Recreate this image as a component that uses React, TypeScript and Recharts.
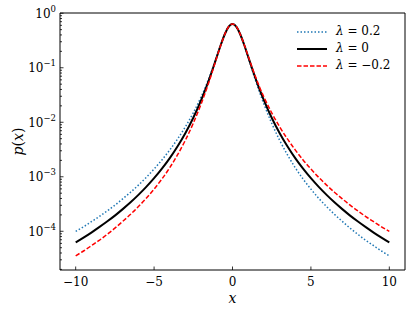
import React from 'react';
import { LineChart, Line, XAxis, YAxis, ReferenceArea } from 'recharts';

const xValues = [
  -10, -9.5, -9, -8.5, -8, -7.5, -7, -6.5, -6, -5.5, -5, -4.5, -4, -3.5, -3, -2.5, -2,
  -1.75, -1.5, -1.25, -1, -0.75, -0.5, -0.25, 0, 0.25, 0.5, 0.75, 1, 1.25, 1.5, 1.75,
  2, 2.5, 3, 3.5, 4, 4.5, 5, 5.5, 6, 6.5, 7, 7.5, 8, 8.5, 9, 9.5, 10,
];

// lambda = 0.2 (blue, dotted)
const pLambdaPos = [
  1.0e-4, 1.21e-4, 1.5e-4, 1.86e-4, 2.36e-4, 3.01e-4, 3.94e-4, 5.21e-4, 7.04e-4, 9.75e-4,
  1.39e-3, 2.04e-3, 3.11e-3, 4.95e-3, 8.3e-3, 0.0149, 0.0292, 0.0423, 0.0646, 0.1015, 0.163,
  0.264, 0.407, 0.564, 0.637, 0.564, 0.407, 0.258, 0.156, 0.0915, 0.055, 0.034, 0.0217,
  9.62e-3, 4.72e-3, 2.54e-3, 1.47e-3, 9.11e-4, 5.94e-4, 4.02e-4, 2.84e-4, 2.05e-4, 1.52e-4,
  1.14e-4, 8.77e-5, 6.82e-5, 5.44e-5, 4.35e-5, 3.55e-5,
];

// lambda = 0 (black, solid)
const pLambdaZero = [
  6.24e-5, 7.65e-5, 9.47e-5, 1.19e-4, 1.51e-4, 1.94e-4, 2.55e-4, 3.4e-4, 4.65e-4, 6.52e-4,
  9.42e-4, 1.41e-3, 2.2e-3, 3.63e-3, 6.37e-3, 0.0121, 0.0255, 0.0386, 0.0603, 0.097, 0.159,
  0.261, 0.407, 0.564, 0.637, 0.564, 0.407, 0.261, 0.159, 0.097, 0.0603, 0.0386, 0.0255,
  0.0121, 6.37e-3, 3.63e-3, 2.2e-3, 1.41e-3, 9.42e-4, 6.52e-4, 4.65e-4, 3.4e-4, 2.55e-4,
  1.94e-4, 1.51e-4, 1.19e-4, 9.47e-5, 7.65e-5, 6.24e-5,
];

// lambda = -0.2 (red, dashed)
const pLambdaNeg = [
  3.55e-5, 4.35e-5, 5.44e-5, 6.82e-5, 8.77e-5, 1.14e-4, 1.52e-4, 2.05e-4, 2.84e-4, 4.02e-4,
  5.94e-4, 9.11e-4, 1.47e-3, 2.54e-3, 4.72e-3, 9.62e-3, 0.0217, 0.034, 0.055, 0.0915, 0.156,
  0.258, 0.407, 0.564, 0.637, 0.564, 0.407, 0.264, 0.163, 0.1015, 0.0646, 0.0423, 0.0292,
  0.0149, 8.3e-3, 4.95e-3, 3.11e-3, 2.04e-3, 1.39e-3, 9.75e-4, 7.04e-4, 5.21e-4, 3.94e-4,
  3.01e-4, 2.36e-4, 1.86e-4, 1.5e-4, 1.21e-4, 1.0e-4,
];

const xTicks = [-10, -5, 0, 5, 10];
const yDecades = [1e-4, 1e-3, 1e-2, 1e-1, 1];
const legendLabels = ['0.2', '0', '−0.2'];

const X_DOMAIN: [number, number] = [-11, 11];
const Y_DOMAIN: [number, number] = [1.95e-5, 1.01];

const yMinor: number[] = [];
[1e-5, 1e-4, 1e-3, 1e-2, 1e-1].forEach((d) => {
  for (let k = 2; k <= 9; k++) {
    const v = k * d;
    if (v > Y_DOMAIN[0] && v < Y_DOMAIN[1]) yMinor.push(v);
  }
});
const yTicks = [...yDecades, ...yMinor].sort((a, b) => a - b);

const data = xValues.map((x, i) => ({
  x,
  pos: pLambdaPos[i],
  zero: pLambdaZero[i],
  neg: pLambdaNeg[i],
}));

const FONT = '"DejaVu Serif", serif';
const textStyle = { fontFamily: FONT, fontSize: 12, fill: '#000' };

function XTick({ x, y, payload }: any) {
  const v = payload.value as number;
  const label = v < 0 ? '−' + Math.abs(v) : String(v);
  return (
    <g>
      <line x1={x} x2={x} y1={y} y2={y - 3.5} stroke="#000" strokeWidth={0.8} />
      <text x={x} y={y + 16} textAnchor="middle" style={textStyle}>
        {label}
      </text>
    </g>
  );
}

function YTick({ x, y, payload }: any) {
  const v = payload.value as number;
  const lg = Math.log10(v);
  const exp = Math.round(lg);
  const major = Math.abs(lg - exp) < 1e-6;
  return (
    <g>
      <line x1={x} x2={x + (major ? 3.5 : 2)} y1={y} y2={y} stroke="#000" strokeWidth={0.8} />
      {major && (
        <text x={x - 4} y={y + 4.5} textAnchor="end" style={textStyle}>
          10
          <tspan dy={-6} style={{ fontSize: 8.5 }}>
            {exp === 0 ? '0' : '−' + Math.abs(exp)}
          </tspan>
        </text>
      )}
    </g>
  );
}

const series = [
  { key: 'pos', color: '#1f77b4', dash: '1.5 2', width: 1.5 },
  { key: 'zero', color: '#000000', dash: undefined, width: 2 },
  { key: 'neg', color: '#ff0000', dash: '4.5 2', width: 1.5 },
];

function ChartLegend() {
  return (
    <div style={{ position: 'absolute', left: 297, top: 23, fontFamily: FONT, fontSize: 12, lineHeight: '17px' }}>
      {series.map((s, i) => (
        <div key={s.key} style={{ display: 'flex', alignItems: 'center', height: 17 }}>
          <svg width={30} height={10} style={{ marginRight: 9 }}>
            <line x1={0} x2={30} y1={5} y2={5} stroke={s.color} strokeWidth={s.width} strokeDasharray={s.dash} />
          </svg>
          <span>
            <i>λ</i> = {legendLabels[i]}
          </span>
        </div>
      ))}
    </div>
  );
}

export default function App() {
  return (
    <div style={{ position: 'absolute', left: 0, top: 0, width: 415, height: 314, background: '#fff' }}>
      <LineChart width={415} height={314} data={data} margin={{ top: 13, right: 10, bottom: 0, left: 0 }}>
        <XAxis
          dataKey="x"
          type="number"
          domain={X_DOMAIN}
          ticks={xTicks}
          interval={0}
          allowDataOverflow
          axisLine={false}
          tickLine={false}
          tickSize={0}
          tickMargin={0}
          height={44}
          tick={<XTick />}
          label={{
            content: ({ viewBox }: any) => (
              <text
                x={viewBox.x + viewBox.width / 2}
                y={viewBox.y + 33}
                textAnchor="middle"
                style={{ fontFamily: FONT, fontStyle: 'italic', fontSize: 14, fill: '#000' }}
              >
                x
              </text>
            ),
          }}
        />
        <YAxis
          type="number"
          scale="log"
          domain={Y_DOMAIN}
          ticks={yTicks}
          interval={0}
          allowDataOverflow
          axisLine={false}
          tickLine={false}
          tickSize={0}
          tickMargin={0}
          width={60}
          tick={<YTick />}
          label={{
            content: ({ viewBox }: any) => {
              const cx = viewBox.x + 19;
              const cy = viewBox.y + viewBox.height / 2;
              return (
                <text
                  x={cx}
                  y={cy}
                  transform={`rotate(-90 ${cx} ${cy})`}
                  textAnchor="middle"
                  dominantBaseline="middle"
                  style={{ fontFamily: FONT, fontSize: 14, fill: '#000' }}
                >
                  <tspan fontStyle="italic">p</tspan>(<tspan fontStyle="italic">x</tspan>)
                </text>
              );
            },
          }}
        />
        {series.map((s) => (
          <Line
            key={s.key}
            dataKey={s.key}
            type="monotone"
            stroke={s.color}
            strokeWidth={s.width}
            strokeDasharray={s.dash}
            dot={false}
            isAnimationActive={false}
          />
        ))}
        <ReferenceArea
          x1={X_DOMAIN[0]}
          x2={X_DOMAIN[1]}
          y1={Y_DOMAIN[0]}
          y2={Y_DOMAIN[1]}
          fill="none"
          stroke="#000"
          strokeWidth={1}
          ifOverflow="visible"
        />
      </LineChart>
      <ChartLegend />
    </div>
  );
}
